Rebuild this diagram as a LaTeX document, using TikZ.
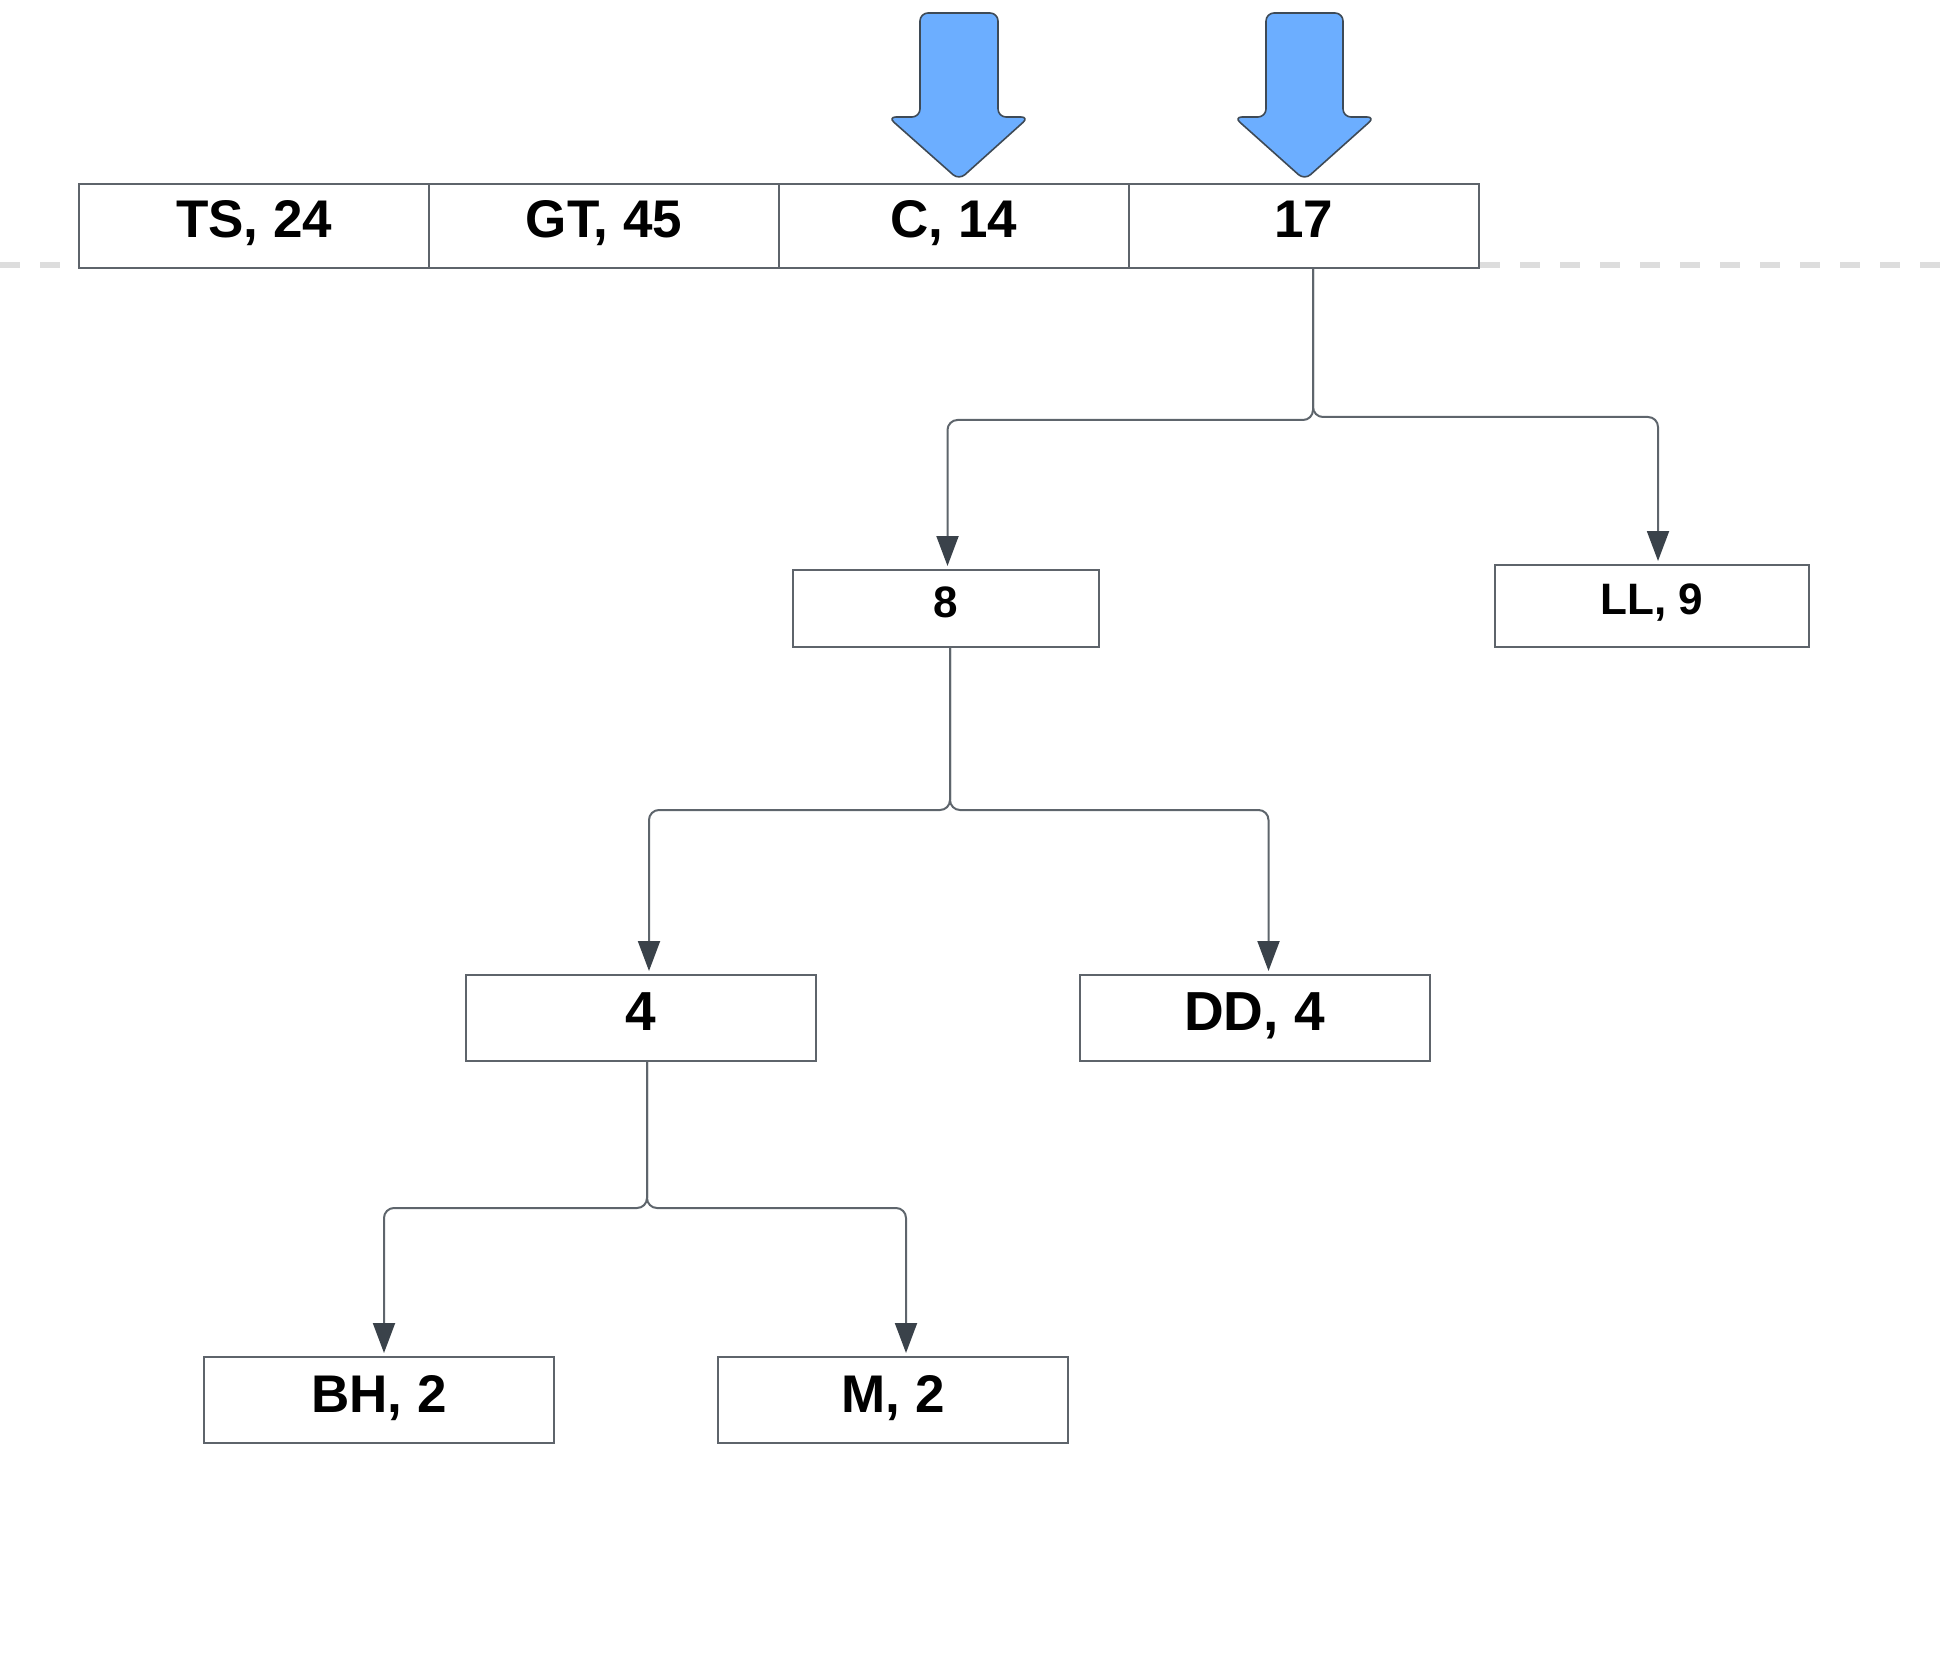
\documentclass[tikz,border=0pt]{standalone}
\usepackage{fontspec}
\setmainfont{Liberation Sans}
\usetikzlibrary{arrows.meta,calc}
\definecolor{boxline}{HTML}{5E646B}
\definecolor{connline}{HTML}{5E656C}
\definecolor{tipcol}{HTML}{3A424A}
\definecolor{arrowfill}{HTML}{6CAEFF}
\definecolor{arrowline}{HTML}{3E4A56}
\definecolor{dashcol}{HTML}{DDDDDD}
\begin{document}
\begin{tikzpicture}[x=0.5pt,y=-0.5pt,
  basebox/.style={draw=boxline, line width=1pt, fill=white, inner sep=0pt, text depth=7pt},
  cell/.style={basebox, minimum width=175pt, minimum height=42pt,
    font=\fontsize{26.5}{30}\selectfont\bfseries, text height=19pt},
  midbox/.style={basebox, minimum height=38.5pt,
    font=\fontsize{22}{26}\selectfont\bfseries, text height=15.75pt},
  lowbox/.style={basebox, minimum width=175pt, minimum height=43pt,
    font=\fontsize{27.5}{31}\selectfont\bfseries, text height=19.7pt},
  leafbox/.style={basebox, minimum width=175pt, minimum height=43pt,
    font=\fontsize{26.5}{30}\selectfont\bfseries, text height=19pt},
  conn/.style={draw=connline, line width=1pt, rounded corners=5pt, shorten >=1.5pt,
    -{Triangle[length=15pt,width=11pt,color=tipcol]}},
  bigarrow/.style={draw=arrowline, line width=0.8pt, fill=arrowfill, rounded corners=4pt, line join=round}
]
\useasboundingbox (0,0) rectangle (1947,1668);

% dashed guide line
\draw[dashcol, line width=3pt, dash pattern=on 10pt off 10pt] (0,265) -- (1947,265);

% top row
\node[cell] (c1) at (254.25,226) {TS, 24};
\node[cell] (c2) at (604,226) {GT, 45};
\node[cell] (c3) at (954,226) {C, 14};
\node[cell] (c4) at (1303.5,226) {17};

% pointer arrows
\draw[bigarrow] (920,13) -- (998,13) -- (998,117) -- (1029,117) -- (959,180) -- (888,117) -- (920,117) -- cycle;
\draw[bigarrow] (1266,13) -- (1343,13) -- (1343,117) -- (1375,117) -- (1304.5,180) -- (1234,117) -- (1266,117) -- cycle;

% tree nodes
\node[midbox, minimum width=153pt] (b8) at (946,608.5) {8};
\node[midbox, minimum width=157pt, minimum height=41pt] (ll) at (1652,606) {LL, 9};
\node[lowbox] (b4) at (641,1018) {4};
\node[lowbox] (dd) at (1254.5,1018) {DD, 4};
\node[leafbox] (bh) at (379,1400) {BH, 2};
\node[leafbox] (m) at (893,1400) {M, 2};

% connectors
\coordinate (j1l) at (1313,420);
\coordinate (j1r) at (1313,417);
\draw[conn] (c4.south -| j1l) -- (j1l) -| ($(b8.north)+(1.5,0)$);
\draw[conn] (c4.south -| j1r) -- (j1r) -| ($(ll.north)+(6,0)$);

\coordinate (j2) at (950,810);
\draw[conn] (b8.south -| j2) -- (j2) -| ($(b4.north)+(8,0)$);
\draw[conn] (b8.south -| j2) -- (j2) -| ($(dd.north)+(14,0)$);

\coordinate (j3) at (647,1208);
\draw[conn] (b4.south -| j3) -- (j3) -| ($(bh.north)+(5,0)$);
\draw[conn] (b4.south -| j3) -- (j3) -| ($(m.north)+(13,0)$);
\end{tikzpicture}
\end{document}
